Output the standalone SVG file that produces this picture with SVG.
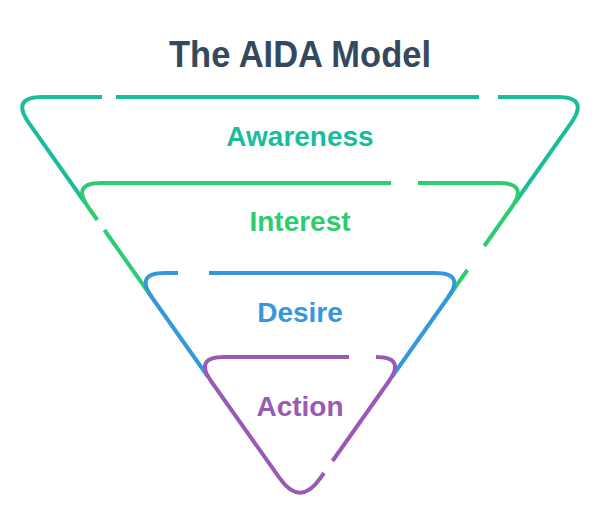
<svg xmlns="http://www.w3.org/2000/svg" width="600" height="524" viewBox="0 0 600 524">
<style>
.l{fill:none;stroke-width:4;stroke-linecap:butt;stroke-linejoin:round}
.t{font-family:"Liberation Sans",Arial,sans-serif;font-weight:bold;text-anchor:middle}
</style>
<rect width="600" height="524" fill="#fff"/>
<text class="t" x="300" y="67" font-size="37" fill="#34495e" textLength="262" lengthAdjust="spacingAndGlyphs">The AIDA Model</text>
<g id="connectors"></g>
<g id="awareness">
<path class="l" stroke="#1abc9c" d="M85.3 203 L29 123.1 Q10.5 97 42.5 97 L102 97 M116 97 L479 97 M498 97 L557.5 97 Q589.5 97 571 123.1 L514.7 203"/>
<text class="t" x="300" y="146" font-size="28" fill="#1abc9c">Awareness</text>
</g>
<g id="interest">
<path class="l" stroke="#2ecc71" d="M151.7 297 L104.4 230 M97.3 220 L88.5 207.5 Q71.2 183 101.2 183 L391 183 M418 183 L498.8 183 Q528.8 183 511.5 207.5 L484.3 246 M467.4 270 L448.3 297"/>
<text class="t" x="300" y="231" font-size="28" fill="#2ecc71">Interest</text>
</g>
<g id="desire">
<path class="l" stroke="#3498db" d="M208.2 377 L152 297.5 Q134.7 273 164.7 273 L178 273 M209 273 L435.3 273 Q465.3 273 448 297.5 L391.8 377"/>
<text class="t" x="300" y="322" font-size="28" fill="#3498db">Desire</text>
</g>
<g id="action">
<path class="l" stroke="#9b59b6" d="M324 473 L320.2 478.4 Q300 507 279.8 478.4 L211.3 381.5 Q194 357 224 357 L349 357 M376 357 Q406 357 388.7 381.5 L332.5 461"/>
<text class="t" x="300" y="416" font-size="28" fill="#9b59b6">Action</text>
</g>
</svg>
